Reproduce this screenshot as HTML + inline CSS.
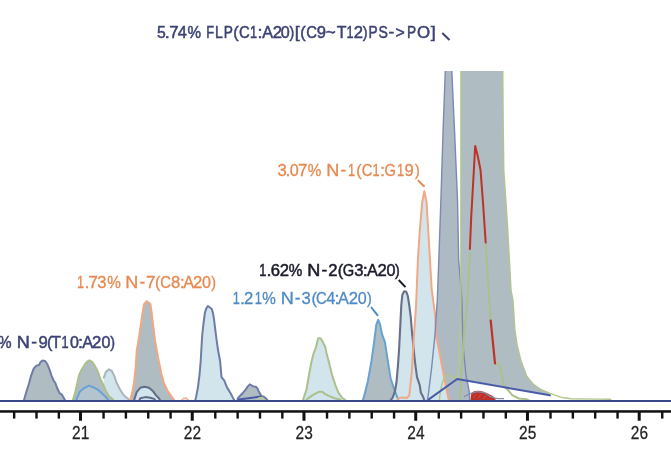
<!DOCTYPE html>
<html><head><meta charset="utf-8">
<style>
html,body{margin:0;padding:0;background:#fff;width:671px;height:464px;overflow:hidden}
svg{display:block;will-change:transform}
text{font-family:"Liberation Sans",sans-serif}
</style></head>
<body>
<svg width="671" height="464" viewBox="0 0 671 464">
<rect width="671" height="464" fill="#fff"/>
<defs><clipPath id="ct"><rect x="0" y="71" width="671" height="393"/></clipPath></defs>

<path d="M103.8,401.0 L103.8,377.7 L105.9,371.9 L109.1,369.3 L111.7,370.8 L114.4,376.1 L116.5,382.5 L119.6,388.8 L122.8,394.1 L126.0,397.2 L128.1,398.8 L130.0,401.0 L130.0,401.0 Z" fill="#d2e5ed"/>
<path d="M23.7,401.0 L23.7,401.0 L26.3,392.0 L29.0,383.5 L31.1,375.6 L33.7,368.7 L36.4,365.6 L39.0,365.0 L40.6,361.9 L42.7,360.5 L45.4,361.3 L47.5,364.5 L49.6,369.8 L51.7,376.1 L53.8,380.9 L55.4,383.0 L57.0,387.8 L59.6,393.1 L61.8,394.6 L65.5,401.0 L65.5,401.0 Z" fill="#afbcc2"/>
<path d="M72.6,401.0 L72.6,401.0 L75.3,392.0 L77.9,380.3 L79.0,375.1 L81.6,369.8 L84.8,364.5 L87.4,361.3 L89.5,360.3 L92.2,361.9 L95.3,366.6 L98.0,371.9 L100.1,378.2 L102.7,383.5 L105.9,390.9 L109.1,396.2 L112.2,398.8 L114.0,401.0 L114.0,401.0 Z" fill="#afbcc2"/>
<path d="M76.0,401.0 L76.0,401.0 L77.4,397.2 L80.0,391.4 L83.7,388.3 L89.0,385.6 L93.2,387.2 L98.0,389.8 L102.7,394.1 L107.0,398.3 L108.5,401.0 L108.5,401.0 Z" fill="#b4c4cf"/>
<path d="M129.8,401.0 L129.8,401.0 L132.1,393.1 L133.9,383.8 L135.6,367.5 L136.8,350.0 L138.1,342.6 L139.9,330.9 L141.6,319.3 L142.8,311.1 L144.0,304.1 L146.9,301.2 L150.4,304.1 L151.5,311.1 L152.7,321.6 L153.9,330.9 L155.0,340.2 L156.7,350.0 L158.9,361.6 L161.3,373.3 L164.2,383.8 L168.2,391.9 L172.9,398.3 L175.0,401.0 L175.0,401.0 Z" fill="#afbcc2"/>
<path d="M133.9,401.0 L133.9,401.0 L134.5,398.9 L136.8,391.9 L140.3,387.8 L144.4,386.7 L149.0,387.8 L153.1,391.3 L156.0,395.4 L158.9,398.3 L160.5,401.0 L160.5,401.0 Z" fill="#d2e5ed"/>
<path d="M195.0,401.0 L195.0,401.0 L196.0,397.4 L197.9,387.6 L199.5,375.0 L200.7,361.0 L201.9,340.0 L202.3,334.5 L203.2,325.9 L204.1,319.0 L204.9,312.9 L206.2,308.6 L207.9,306.0 L211.8,309.0 L213.1,313.8 L214.0,319.0 L214.8,325.9 L215.7,332.8 L216.6,340.0 L218.0,349.8 L220.1,361.0 L221.5,377.1 L224.3,380.6 L227.1,387.6 L230.6,393.2 L232.7,397.4 L234.8,401.0 L234.8,401.0 Z" fill="#d2e5ed"/>
<path d="M237.5,401.0 L237.5,399.0 L238.7,397.1 L242.1,393.8 L245.4,389.8 L247.8,386.4 L249.8,384.4 L251.5,385.4 L253.5,386.4 L255.8,386.7 L257.5,388.4 L258.9,391.8 L260.9,395.1 L261.5,396.5 L263.6,396.5 L266.2,398.5 L268.0,401.0 L268.0,401.0 Z" fill="#afbcc2"/>
<path d="M303.0,401.0 L303.0,401.0 L303.4,398.8 L306.5,389.5 L308.9,375.5 L311.2,363.1 L313.5,353.7 L315.9,347.5 L318.2,338.2 L320.5,338.2 L322.8,342.1 L325.2,346.8 L326.7,353.7 L329.1,363.1 L332.2,375.5 L335.3,384.8 L338.4,392.6 L342.3,398.0 L344.6,399.5 L346.0,401.0 L346.0,401.0 Z" fill="#d2e5ed"/>
<path d="M362.5,401.0 L362.5,401.0 L363.8,397.3 L367.7,382.0 L371.5,360.9 L374.4,339.9 L376.3,324.6 L378.2,319.8 L380.1,324.6 L382.0,334.1 L384.9,341.8 L387.8,360.9 L390.6,378.2 L394.4,389.6 L397.3,397.3 L398.5,401.0 L398.5,401.0 Z" fill="#afbcc2"/>
<path d="M390.0,401.0 L390.0,401.0 L392.7,397.6 L395.0,391.0 L396.5,382.3 L398.0,365.0 L399.1,349.0 L400.4,323.4 L401.3,305.0 L402.3,295.0 L404.2,291.2 L406.3,291.8 L407.8,296.0 L409.3,305.5 L410.8,317.7 L411.9,331.1 L414.4,356.7 L415.5,366.0 L417.0,377.1 L419.7,385.1 L420.8,392.5 L423.4,397.6 L424.5,401.0 L424.5,401.0 Z" fill="#d2e5ed"/>
<g clip-path="url(#ct)">
<path d="M427.2,401.0 L428.4,394.0 L431.7,367.1 L435.1,333.6 L437.3,300.0 L438.8,260.0 L440.9,200.0 L443.1,130.0 L445.7,60.0 L451.3,60.0 L454.5,130.0 L457.5,200.0 L458.7,260.0 L461.9,300.0 L463.0,344.7 L466.0,376.0 L468.0,385.0 L469.4,392.7 L469.7,401.0 Z" fill="#adbac4"/>
<path d="M439.5,401.0 L439.5,398.4 L440.7,389.5 L442.9,380.5 L446.3,374.9 L450.7,376.0 L456.3,378.3 L458.6,367.1 L459.7,333.6 L460.8,300.0 L460.9,260.0 L460.9,60.0 L502.7,60.0 L503.2,125.0 L503.8,170.0 L507.5,225.0 L511.1,291.0 L513.0,300.0 L514.9,330.0 L517.3,345.9 L521.3,361.8 L526.8,376.2 L533.2,384.1 L541.2,389.7 L549.1,392.9 L549.9,395.3 L457.4,378.3 L439.5,392.0 Z" fill="#afbcc2"/>
</g>
<path d="M397.7,401.0 L397.7,398.7 L401.6,397.4 L406.7,398.0 L409.3,395.5 L411.9,370.9 L414.0,335.0 L416.0,306.7 L417.9,260.0 L419.7,231.7 L422.2,202.4 L424.3,191.2 L426.6,202.4 L428.3,231.7 L430.0,260.0 L431.7,289.5 L435.2,315.3 L436.0,335.0 L439.0,350.2 L446.6,390.0 L449.0,401.0 L449.0,401.0 Z" fill="#d2e5ed"/>
<path d="M470.2,401 L471.4,392.8 L474.7,391.1 L478.8,390.7 L482.9,391.5 L487.8,393.6 L492.7,396 L495.2,398.5 L496,401 Z" fill="#bd3129"/>
<path d="M463.8,396.9 L469.2,394 L476.9,391.6 L484.6,392.7 L490,396.3 L495.4,398.1 L498,398.6 L504,398.6" fill="none" stroke="#8590a8" stroke-width="1.3" stroke-linejoin="round"/>
<path d="M473,398 L476,394.5 M478,398.5 L481,394 M483,399 L486,395.5" fill="none" stroke="#e0706a" stroke-width="0.8" opacity="0.6"/>
<path d="M23.7,401.0 L26.3,392.0 L29.0,383.5 L31.1,375.6 L33.7,368.7 L36.4,365.6 L39.0,365.0 L40.6,361.9 L42.7,360.5 L45.4,361.3 L47.5,364.5 L49.6,369.8 L51.7,376.1 L53.8,380.9 L55.4,383.0 L57.0,387.8 L59.6,393.1 L61.8,394.6 L65.5,401.0" fill="none" stroke="#6e7ca6" stroke-width="2" stroke-linejoin="round" stroke-linecap="round"/>
<path d="M103.8,377.7 L105.9,371.9 L109.1,369.3 L111.7,370.8 L114.4,376.1 L116.5,382.5 L119.6,388.8 L122.8,394.1 L126.0,397.2 L128.1,398.8 L130.0,401.0" fill="none" stroke="#a9b4bb" stroke-width="2" stroke-linejoin="round" stroke-linecap="round"/>
<path d="M72.6,401.0 L75.3,392.0 L77.9,380.3 L79.0,375.1 L81.6,369.8 L84.8,364.5 L87.4,361.3 L89.5,360.3 L92.2,361.9 L95.3,366.6 L98.0,371.9 L100.1,378.2 L102.7,383.5 L105.9,390.9 L109.1,396.2 L112.2,398.8 L114.0,401.0" fill="none" stroke="#abc08a" stroke-width="2" stroke-linejoin="round" stroke-linecap="round"/>
<path d="M76.0,401.0 L77.4,397.2 L80.0,391.4 L83.7,388.3 L89.0,385.6 L93.2,387.2 L98.0,389.8 L102.7,394.1 L107.0,398.3 L108.5,401.0" fill="none" stroke="#68a2d3" stroke-width="2" stroke-linejoin="round" stroke-linecap="round"/>
<path d="M129.8,401.0 L132.1,393.1 L133.9,383.8 L135.6,367.5 L136.8,350.0 L138.1,342.6 L139.9,330.9 L141.6,319.3 L142.8,311.1 L144.0,304.1 L146.9,301.2 L150.4,304.1 L151.5,311.1 L152.7,321.6 L153.9,330.9 L155.0,340.2 L156.7,350.0 L158.9,361.6 L161.3,373.3 L164.2,383.8 L168.2,391.9 L172.9,398.3 L175.0,401.0" fill="none" stroke="#f2a885" stroke-width="2" stroke-linejoin="round" stroke-linecap="round"/>
<path d="M133.9,401.0 L134.5,398.9 L136.8,391.9 L140.3,387.8 L144.4,386.7 L149.0,387.8 L153.1,391.3 L156.0,395.4 L158.9,398.3 L160.5,401.0" fill="none" stroke="#626b88" stroke-width="2" stroke-linejoin="round" stroke-linecap="round"/>
<path d="M139.0,401.0 L140.3,398.3 L145.5,397.1 L150.2,397.7 L154.3,398.9 L155.5,401.0" fill="none" stroke="#626b88" stroke-width="2" stroke-linejoin="round" stroke-linecap="round"/>
<path d="M195.0,401.0 L196.0,397.4 L197.9,387.6 L199.5,375.0 L200.7,361.0 L201.9,340.0 L202.3,334.5 L203.2,325.9 L204.1,319.0 L204.9,312.9 L206.2,308.6 L207.9,306.0 L211.8,309.0 L213.1,313.8 L214.0,319.0 L214.8,325.9 L215.7,332.8 L216.6,340.0 L218.0,349.8 L220.1,361.0 L221.5,377.1 L224.3,380.6 L227.1,387.6 L230.6,393.2 L232.7,397.4 L234.8,401.0" fill="none" stroke="#6e7ca6" stroke-width="2" stroke-linejoin="round" stroke-linecap="round"/>
<path d="M181,401 L183.5,398.5 L186.5,398.2 L189,401" fill="none" stroke="#f4b090" stroke-width="1.6"/>
<path d="M237.5,399.0 L238.7,397.1 L242.1,393.8 L245.4,389.8 L247.8,386.4 L249.8,384.4 L251.5,385.4 L253.5,386.4 L255.8,386.7 L257.5,388.4 L258.9,391.8 L260.9,395.1 L261.5,396.5 L263.6,396.5 L266.2,398.5 L268.0,401.0" fill="none" stroke="#6e7ca6" stroke-width="2" stroke-linejoin="round" stroke-linecap="round"/>
<path d="M238.7,399.5 L260.8,396.5" fill="none" stroke="#4a5aa8" stroke-width="2" stroke-linejoin="round" stroke-linecap="round"/>
<path d="M256.5,401 L259,398 L262,397.5 L265.5,401" fill="none" stroke="#b8cc90" stroke-width="1.6"/>
<path d="M303.0,401.0 L303.4,398.8 L306.5,389.5 L308.9,375.5 L311.2,363.1 L313.5,353.7 L315.9,347.5 L318.2,338.2 L320.5,338.2 L322.8,342.1 L325.2,346.8 L326.7,353.7 L329.1,363.1 L332.2,375.5 L335.3,384.8 L338.4,392.6 L342.3,398.0 L344.6,399.5 L346.0,401.0" fill="none" stroke="#abc08a" stroke-width="2" stroke-linejoin="round" stroke-linecap="round"/>
<path d="M306.0,401.0 L307.3,398.8 L312.0,395.7 L315.9,393.3 L319.0,391.8 L322.1,391.8 L325.2,394.1 L328.3,395.7 L333.7,398.0 L339.9,399.5 L341.0,401.0" fill="none" stroke="#abc08a" stroke-width="2" stroke-linejoin="round" stroke-linecap="round"/>
<path d="M362.5,401.0 L363.8,397.3 L367.7,382.0 L371.5,360.9 L374.4,339.9 L376.3,324.6 L378.2,319.8 L380.1,324.6 L382.0,334.1 L384.9,341.8 L387.8,360.9 L390.6,378.2 L394.4,389.6 L397.3,397.3 L398.5,401.0" fill="none" stroke="#68a2d3" stroke-width="2" stroke-linejoin="round" stroke-linecap="round"/>
<path d="M390.0,401.0 L392.7,397.6 L395.0,391.0 L396.5,382.3 L398.0,365.0 L399.1,349.0 L400.4,323.4 L401.3,305.0 L402.3,295.0 L404.2,291.2 L406.3,291.8 L407.8,296.0 L409.3,305.5 L410.8,317.7 L411.9,331.1 L414.4,356.7 L415.5,366.0 L417.0,377.1 L419.7,385.1 L420.8,392.5 L423.4,397.6 L424.5,401.0" fill="none" stroke="#687089" stroke-width="2.1" stroke-linejoin="round" stroke-linecap="round"/>
<path d="M397.7,398.7 L401.6,397.4 L406.7,398.0 L409.3,395.5 L411.9,370.9 L414.0,335.0 L416.0,306.7 L417.9,260.0 L419.7,231.7 L422.2,202.4 L424.3,191.2 L426.6,202.4 L428.3,231.7 L430.0,260.0 L431.7,289.5 L435.2,315.3 L436.0,335.0 L439.0,350.2 L446.6,390.0 L449.0,401.0" fill="none" stroke="#f2a885" stroke-width="2" stroke-linejoin="round" stroke-linecap="round"/>
<g clip-path="url(#ct)">
<path d="M427.2,401.0 L428.4,394.0 L431.7,367.1 L435.1,333.6 L437.3,300.0 L438.8,260.0 L440.9,200.0 L443.1,130.0 L445.7,60.0" fill="none" stroke="#7b89b4" stroke-width="1.4" stroke-linejoin="round" stroke-linecap="round"/>
<path d="M451.3,60.0 L454.5,130.0 L457.5,200.0 L458.7,260.0 L461.9,300.0 L463.0,344.7 L466.0,376.0 L468.0,385.0 L469.4,392.7 L469.7,401.0" fill="none" stroke="#7b89b4" stroke-width="1.4" stroke-linejoin="round" stroke-linecap="round"/>
<path d="M439.5,401.0 L439.5,398.4 L440.7,389.5 L442.9,380.5 L446.3,374.9 L450.7,376.0 L456.3,378.3 L458.6,367.1 L459.7,333.6 L460.8,300.0 L460.9,260.0 L460.9,60.0" fill="none" stroke="#b3c68e" stroke-width="1.4" stroke-linejoin="round" stroke-linecap="round"/>
<path d="M502.7,60.0 L503.2,125.0 L503.8,170.0 L507.5,225.0 L511.1,291.0 L513.0,300.0 L514.9,330.0 L517.3,345.9 L521.3,361.8 L526.8,376.2 L533.2,384.1 L541.2,389.7 L549.1,392.9 L555.5,395.3 L560.0,396.9 L563.4,397.7 L571.3,398.7 L594.7,399.1 L610.3,399.3 L612.0,401.0" fill="none" stroke="#b3c68e" stroke-width="1.4" stroke-linejoin="round" stroke-linecap="round"/>
</g>
<path d="M470.0,253.4 L467.5,300.0 L464.1,333.6 L461.9,367.1 L460.8,385.0 L459.7,398.4 L459.5,401.0" fill="none" stroke="#abc08a" stroke-width="2" stroke-linejoin="round" stroke-linecap="round"/>
<path d="M485.7,242.5 L488.0,280.0 L490.7,320.5" fill="none" stroke="#abc08a" stroke-width="2" stroke-linejoin="round" stroke-linecap="round"/>
<path d="M495.0,363.4 L498.2,363.4 L500.6,367.4 L502.2,377.8 L503.8,385.7 L507.7,389.7 L512.5,395.3 L518.9,398.5 L526.8,399.3 L530.0,401.0" fill="none" stroke="#abc08a" stroke-width="2" stroke-linejoin="round" stroke-linecap="round"/>
<path d="M469.9,249.0 L471.2,217.2 L473.9,169.7 L475.2,146.0 L477.5,155.0 L480.5,169.7 L483.1,204.0 L485.7,242.5" fill="none" stroke="#bd3129" stroke-width="2" stroke-linejoin="round" stroke-linecap="round"/>
<path d="M490.7,320.5 L495.0,363.5" fill="none" stroke="#bd3129" stroke-width="2.2" stroke-linejoin="round" stroke-linecap="round"/>
<path d="M428.8,399.4 L457.2,379.0 L549.9,395.3" fill="none" stroke="#4a5aa8" stroke-width="2" stroke-linejoin="round" stroke-linecap="round"/>
<rect x="0" y="400" width="671" height="2" fill="#394a86"/>
<rect x="0" y="410.2" width="671" height="2.5" fill="#111"/>
<rect x="12.96" y="411" width="2.4" height="7.6" fill="#111"/>
<rect x="35.30" y="411" width="2.4" height="7.6" fill="#111"/>
<rect x="57.65" y="411" width="2.4" height="7.6" fill="#111"/>
<rect x="79.00" y="411" width="3" height="9.7" fill="#111"/>
<rect x="102.35" y="411" width="2.4" height="7.6" fill="#111"/>
<rect x="124.70" y="411" width="2.4" height="7.6" fill="#111"/>
<rect x="147.04" y="411" width="2.4" height="7.6" fill="#111"/>
<rect x="169.39" y="411" width="2.4" height="7.6" fill="#111"/>
<rect x="190.74" y="411" width="3" height="9.7" fill="#111"/>
<rect x="214.09" y="411" width="2.4" height="7.6" fill="#111"/>
<rect x="236.44" y="411" width="2.4" height="7.6" fill="#111"/>
<rect x="258.78" y="411" width="2.4" height="7.6" fill="#111"/>
<rect x="281.13" y="411" width="2.4" height="7.6" fill="#111"/>
<rect x="302.48" y="411" width="3" height="9.7" fill="#111"/>
<rect x="325.83" y="411" width="2.4" height="7.6" fill="#111"/>
<rect x="348.18" y="411" width="2.4" height="7.6" fill="#111"/>
<rect x="370.52" y="411" width="2.4" height="7.6" fill="#111"/>
<rect x="392.87" y="411" width="2.4" height="7.6" fill="#111"/>
<rect x="414.22" y="411" width="3" height="9.7" fill="#111"/>
<rect x="437.57" y="411" width="2.4" height="7.6" fill="#111"/>
<rect x="459.92" y="411" width="2.4" height="7.6" fill="#111"/>
<rect x="482.26" y="411" width="2.4" height="7.6" fill="#111"/>
<rect x="504.61" y="411" width="2.4" height="7.6" fill="#111"/>
<rect x="525.96" y="411" width="3" height="9.7" fill="#111"/>
<rect x="549.31" y="411" width="2.4" height="7.6" fill="#111"/>
<rect x="571.66" y="411" width="2.4" height="7.6" fill="#111"/>
<rect x="594.00" y="411" width="2.4" height="7.6" fill="#111"/>
<rect x="616.35" y="411" width="2.4" height="7.6" fill="#111"/>
<rect x="637.70" y="411" width="3" height="9.7" fill="#111"/>
<rect x="661.05" y="411" width="2.4" height="7.6" fill="#111"/>
<text transform="scale(0.86,1)" x="93.84" y="439" font-size="18" text-anchor="middle" fill="#222" stroke="#222" stroke-width="0.25">21</text>
<text transform="scale(0.86,1)" x="223.77" y="439" font-size="18" text-anchor="middle" fill="#222" stroke="#222" stroke-width="0.25">22</text>
<text transform="scale(0.86,1)" x="353.70" y="439" font-size="18" text-anchor="middle" fill="#222" stroke="#222" stroke-width="0.25">23</text>
<text transform="scale(0.86,1)" x="483.63" y="439" font-size="18" text-anchor="middle" fill="#222" stroke="#222" stroke-width="0.25">24</text>
<text transform="scale(0.86,1)" x="613.56" y="439" font-size="18" text-anchor="middle" fill="#222" stroke="#222" stroke-width="0.25">25</text>
<text transform="scale(0.86,1)" x="743.49" y="439" font-size="18" text-anchor="middle" fill="#222" stroke="#222" stroke-width="0.25">26</text>
<g fill="#3c4274" stroke="#3c4274" stroke-width="0.5" font-size="17.25">
<text transform="translate(161.40,38.00) scale(0.917,1)" x="-4.78" y="0">5</text>
<text transform="translate(167.35,38.00) scale(1.050,1)" x="-2.40" y="0">.</text>
<text transform="translate(173.90,38.00) scale(0.982,1)" x="-4.81" y="0">7</text>
<text transform="translate(182.35,38.00) scale(0.955,1)" x="-4.74" y="0">4</text>
<text transform="translate(194.35,38.00) scale(0.886,1)" x="-7.67" y="0">%</text>
<text transform="translate(210.35,38.00) scale(0.747,1)" x="-5.63" y="0">F</text>
<text transform="translate(219.30,38.00) scale(0.815,1)" x="-5.22" y="0">L</text>
<text transform="translate(228.40,38.00) scale(0.795,1)" x="-6.01" y="0">P</text>
<text transform="translate(236.40,38.00) scale(0.940,1)" x="-3.36" y="0">(</text>
<text transform="translate(244.55,38.00) scale(0.860,1)" x="-6.34" y="0">C</text>
<text transform="translate(253.80,38.00) scale(0.740,1)" x="-5.03" y="0">1</text>
<text transform="translate(260.00,38.00) scale(1.050,1)" x="-2.40" y="0">:</text>
<text transform="translate(267.70,38.00) scale(0.944,1)" x="-5.75" y="0">A</text>
<text transform="translate(277.50,38.00) scale(0.967,1)" x="-4.80" y="0">2</text>
<text transform="translate(285.15,38.00) scale(0.934,1)" x="-4.80" y="0">0</text>
<text transform="translate(291.55,38.00) scale(0.831,1)" x="-2.39" y="0">)</text>
<text transform="translate(297.80,38.00) scale(1.050,1)" x="-2.94" y="0">[</text>
<text transform="translate(303.30,38.00) scale(0.940,1)" x="-3.36" y="0">(</text>
<text transform="translate(311.80,38.00) scale(0.860,1)" x="-6.34" y="0">C</text>
<text transform="translate(321.30,38.00) scale(0.966,1)" x="-4.79" y="0">9</text>
<text transform="translate(330.70,38.00) scale(0.985,1)" x="-5.04" y="0">~</text>
<text transform="translate(341.50,38.00) scale(0.923,1)" x="-5.26" y="0">T</text>
<text transform="translate(350.30,38.00) scale(0.740,1)" x="-5.03" y="0">1</text>
<text transform="translate(358.50,38.00) scale(0.967,1)" x="-4.80" y="0">2</text>
<text transform="translate(364.80,38.00) scale(0.831,1)" x="-2.39" y="0">)</text>
<text transform="translate(373.30,38.00) scale(0.795,1)" x="-6.01" y="0">P</text>
<text transform="translate(383.15,38.00) scale(0.816,1)" x="-5.75" y="0">S</text>
<text transform="translate(391.35,37.40) scale(0.997,1)" x="-2.87" y="0">-</text>
<text transform="translate(400.05,38.00) scale(0.919,1)" x="-5.04" y="0">&gt;</text>
<text transform="translate(411.70,38.00) scale(0.795,1)" x="-6.01" y="0">P</text>
<text transform="translate(423.60,38.00) scale(0.977,1)" x="-6.70" y="0">O</text>
<text transform="translate(432.80,38.00) scale(1.050,1)" x="-1.85" y="0">]</text>
</g>
<g fill="#e6884f" stroke="#e6884f" stroke-width="0.3" font-size="17.25">
<text transform="translate(282.15,176.00) scale(0.966,1)" x="-4.75" y="0">3</text>
<text transform="translate(287.95,176.00) scale(1.050,1)" x="-2.40" y="0">.</text>
<text transform="translate(294.20,176.00) scale(0.934,1)" x="-4.80" y="0">0</text>
<text transform="translate(302.70,176.00) scale(0.982,1)" x="-4.81" y="0">7</text>
<text transform="translate(314.55,176.00) scale(0.886,1)" x="-7.67" y="0">%</text>
<text transform="translate(332.85,176.00) scale(1.050,1)" x="-6.23" y="0">N</text>
<text transform="translate(343.45,175.40) scale(0.997,1)" x="-2.87" y="0">-</text>
<text transform="translate(351.65,176.00) scale(0.740,1)" x="-5.03" y="0">1</text>
<text transform="translate(359.50,176.00) scale(0.940,1)" x="-3.36" y="0">(</text>
<text transform="translate(367.10,176.00) scale(0.860,1)" x="-6.34" y="0">C</text>
<text transform="translate(376.15,176.00) scale(0.740,1)" x="-5.03" y="0">1</text>
<text transform="translate(382.40,176.00) scale(1.050,1)" x="-2.40" y="0">:</text>
<text transform="translate(390.10,176.00) scale(0.852,1)" x="-6.50" y="0">G</text>
<text transform="translate(400.70,176.00) scale(0.740,1)" x="-5.03" y="0">1</text>
<text transform="translate(409.20,176.00) scale(0.966,1)" x="-4.79" y="0">9</text>
<text transform="translate(416.90,176.00) scale(0.831,1)" x="-2.39" y="0">)</text>
</g>
<g fill="#1b1b2b" stroke="#1b1b2b" stroke-width="0.5" font-size="17.25">
<text transform="translate(262.85,276.00) scale(0.740,1)" x="-5.03" y="0">1</text>
<text transform="translate(268.95,276.00) scale(1.050,1)" x="-2.40" y="0">.</text>
<text transform="translate(275.35,276.00) scale(0.967,1)" x="-4.86" y="0">6</text>
<text transform="translate(284.30,276.00) scale(0.967,1)" x="-4.80" y="0">2</text>
<text transform="translate(295.55,276.00) scale(0.886,1)" x="-7.67" y="0">%</text>
<text transform="translate(313.80,276.00) scale(1.050,1)" x="-6.23" y="0">N</text>
<text transform="translate(324.25,275.40) scale(0.997,1)" x="-2.87" y="0">-</text>
<text transform="translate(332.90,276.00) scale(0.967,1)" x="-4.80" y="0">2</text>
<text transform="translate(340.85,276.00) scale(0.940,1)" x="-3.36" y="0">(</text>
<text transform="translate(348.30,276.00) scale(0.852,1)" x="-6.50" y="0">G</text>
<text transform="translate(358.75,276.00) scale(0.966,1)" x="-4.75" y="0">3</text>
<text transform="translate(365.35,276.00) scale(1.050,1)" x="-2.40" y="0">:</text>
<text transform="translate(372.30,276.00) scale(0.944,1)" x="-5.75" y="0">A</text>
<text transform="translate(382.15,276.00) scale(0.967,1)" x="-4.80" y="0">2</text>
<text transform="translate(390.90,276.00) scale(0.934,1)" x="-4.80" y="0">0</text>
<text transform="translate(396.90,276.00) scale(0.831,1)" x="-2.39" y="0">)</text>
</g>
<g fill="#e6884f" stroke="#e6884f" stroke-width="0.3" font-size="17.25">
<text transform="translate(80.65,288.00) scale(0.740,1)" x="-5.03" y="0">1</text>
<text transform="translate(86.90,288.00) scale(1.050,1)" x="-2.40" y="0">.</text>
<text transform="translate(93.15,288.00) scale(0.982,1)" x="-4.81" y="0">7</text>
<text transform="translate(101.95,288.00) scale(0.966,1)" x="-4.75" y="0">3</text>
<text transform="translate(114.05,288.00) scale(0.886,1)" x="-7.67" y="0">%</text>
<text transform="translate(131.80,288.00) scale(1.050,1)" x="-6.23" y="0">N</text>
<text transform="translate(142.25,287.40) scale(0.997,1)" x="-2.87" y="0">-</text>
<text transform="translate(150.75,288.00) scale(0.982,1)" x="-4.81" y="0">7</text>
<text transform="translate(158.10,288.00) scale(0.940,1)" x="-3.36" y="0">(</text>
<text transform="translate(165.70,288.00) scale(0.860,1)" x="-6.34" y="0">C</text>
<text transform="translate(175.70,288.00) scale(0.964,1)" x="-4.80" y="0">8</text>
<text transform="translate(182.15,288.00) scale(1.050,1)" x="-2.40" y="0">:</text>
<text transform="translate(188.70,288.00) scale(0.944,1)" x="-5.75" y="0">A</text>
<text transform="translate(197.65,288.00) scale(0.967,1)" x="-4.80" y="0">2</text>
<text transform="translate(206.60,288.00) scale(0.934,1)" x="-4.80" y="0">0</text>
<text transform="translate(213.30,288.00) scale(0.831,1)" x="-2.39" y="0">)</text>
</g>
<g fill="#4d8ac4" stroke="#4d8ac4" stroke-width="0.3" font-size="17.25">
<text transform="translate(236.45,303.90) scale(0.740,1)" x="-5.03" y="0">1</text>
<text transform="translate(242.45,303.90) scale(1.050,1)" x="-2.40" y="0">.</text>
<text transform="translate(248.55,303.90) scale(0.967,1)" x="-4.80" y="0">2</text>
<text transform="translate(258.40,303.90) scale(0.740,1)" x="-5.03" y="0">1</text>
<text transform="translate(269.10,303.90) scale(0.886,1)" x="-7.67" y="0">%</text>
<text transform="translate(287.25,303.90) scale(1.050,1)" x="-6.23" y="0">N</text>
<text transform="translate(297.70,303.30) scale(0.997,1)" x="-2.87" y="0">-</text>
<text transform="translate(306.20,303.90) scale(0.966,1)" x="-4.75" y="0">3</text>
<text transform="translate(314.60,303.90) scale(0.940,1)" x="-3.36" y="0">(</text>
<text transform="translate(321.40,303.90) scale(0.860,1)" x="-6.34" y="0">C</text>
<text transform="translate(330.80,303.90) scale(0.955,1)" x="-4.74" y="0">4</text>
<text transform="translate(336.90,303.90) scale(1.050,1)" x="-2.40" y="0">:</text>
<text transform="translate(343.50,303.90) scale(0.944,1)" x="-5.75" y="0">A</text>
<text transform="translate(353.45,303.90) scale(0.967,1)" x="-4.80" y="0">2</text>
<text transform="translate(362.30,303.90) scale(0.934,1)" x="-4.80" y="0">0</text>
<text transform="translate(369.00,303.90) scale(0.831,1)" x="-2.39" y="0">)</text>
</g>
<g fill="#3c4274" stroke="#3c4274" stroke-width="0.5" font-size="17.25">
<text transform="translate(4.80,348.00) scale(0.886,1)" x="-7.67" y="0">%</text>
<text transform="translate(23.25,348.00) scale(1.050,1)" x="-6.23" y="0">N</text>
<text transform="translate(34.15,347.40) scale(0.997,1)" x="-2.87" y="0">-</text>
<text transform="translate(43.05,348.00) scale(0.966,1)" x="-4.79" y="0">9</text>
<text transform="translate(50.20,348.00) scale(0.940,1)" x="-3.36" y="0">(</text>
<text transform="translate(56.15,348.00) scale(0.923,1)" x="-5.26" y="0">T</text>
<text transform="translate(65.25,348.00) scale(0.740,1)" x="-5.03" y="0">1</text>
<text transform="translate(74.50,348.00) scale(0.934,1)" x="-4.80" y="0">0</text>
<text transform="translate(80.40,348.00) scale(1.050,1)" x="-2.40" y="0">:</text>
<text transform="translate(87.55,348.00) scale(0.944,1)" x="-5.75" y="0">A</text>
<text transform="translate(96.75,348.00) scale(0.967,1)" x="-4.80" y="0">2</text>
<text transform="translate(106.00,348.00) scale(0.934,1)" x="-4.80" y="0">0</text>
<text transform="translate(112.25,348.00) scale(0.831,1)" x="-2.39" y="0">)</text>
</g>
<line x1="442.3" y1="33" x2="449.5" y2="40" stroke="#3c4274" stroke-width="2"/>
<line x1="417.8" y1="180.1" x2="424.5" y2="186.8" stroke="#e5874f" stroke-width="2"/>
<line x1="398.7" y1="280" x2="405.5" y2="287.1" stroke="#1b1b2b" stroke-width="2"/>
<line x1="371" y1="307" x2="378" y2="315.8" stroke="#4d8ac4" stroke-width="2"/>
</svg>
</body></html>
